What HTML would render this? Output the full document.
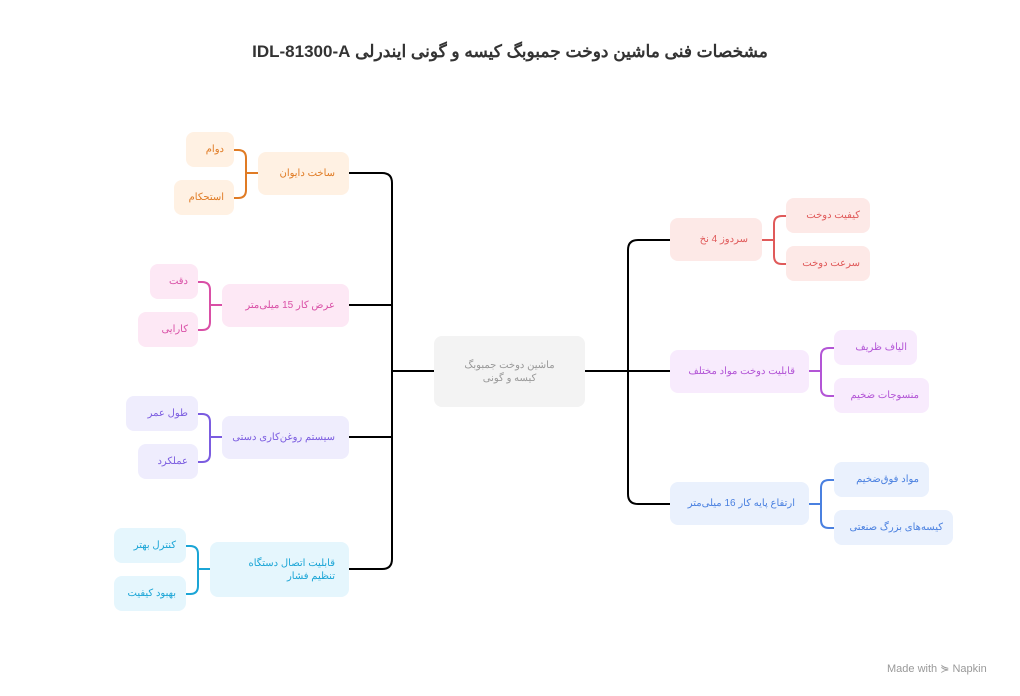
<!DOCTYPE html>
<html><head><meta charset="utf-8"><style>
body{margin:0;width:1020px;height:696px;background:#fff;position:relative;overflow:hidden;font-family:"Liberation Sans","Noto Sans CJK SC",sans-serif}
.b{position:absolute;border-radius:8px;display:flex;align-items:center;justify-content:flex-start;box-sizing:border-box;padding:0 14px;font-size:10px;direction:rtl;text-align:right;line-height:13px;white-space:nowrap}
.w{white-space:normal}
.s{padding:0 10px}
.t{position:absolute;left:0;top:42px;width:1020px;text-align:center;font-size:17px;font-weight:bold;color:#333;direction:rtl}
.o{background:#fff1e3;color:#e07b24}.p{background:#fde8f5;color:#d94fa6}.u{background:#efedfd;color:#7b5ce0}.c{background:#e5f6fd;color:#1ba5d6}
.r{background:#fde9e7;color:#e05a5a}.v{background:#f8ebfd;color:#b355d6}.l{background:#eaf1fd;color:#4a80e0}
</style></head><body>
<div class="t">مشخصات فنی ماشین دوخت جمبوبگ کیسه و گونی ایندرلی IDL-81300-A</div>
<svg width="1020" height="696" style="position:absolute;left:0;top:0" fill="none">
<g stroke="#000" stroke-width="2">
<path d="M343,173 H382 Q392,173 392,183 V559 Q392,569 382,569 H343"/>
<path d="M343,305 H392 M343,437 H392 M392,371 H434"/>
<path d="M585,371 H628 M670,240 H638 Q628,240 628,250 V494 Q628,504 638,504 H670 M628,371 H670"/>
</g>
<g stroke-width="2">
<path stroke="#e07b24" d="M228,150 H238 Q246,150 246,158 V190 Q246,198 238,198 H228 M246,173 H264"/>
<path stroke="#d94fa6" d="M192,282 H202 Q210,282 210,290 V322 Q210,330 202,330 H192 M210,305 H228"/>
<path stroke="#7b5ce0" d="M192,414 H202 Q210,414 210,422 V454 Q210,462 202,462 H192 M210,437 H228"/>
<path stroke="#1ba5d6" d="M180,546 H190 Q198,546 198,554 V586 Q198,594 190,594 H180 M198,569 H216"/>
<path stroke="#e05a5a" d="M756,240 H774 M792,216 H782 Q774,216 774,224 V256 Q774,264 782,264 H792"/>
<path stroke="#b355d6" d="M803,371 H821 M840,348 H829 Q821,348 821,356 V388 Q821,396 829,396 H840"/>
<path stroke="#4a80e0" d="M803,504 H821 M840,480 H829 Q821,480 821,488 V520 Q821,528 829,528 H840"/>
</g></svg>
<div class="b w" style="left:434px;top:336px;width:151px;height:71px;background:#f3f3f3;color:#999;justify-content:center;text-align:center;padding:0 20px">ماشین دوخت جمبوبگ کیسه و گونی</div>

<div class="b o" style="left:258px;top:152px;width:91px;height:43px">ساخت دایوان</div>
<div class="b o s" style="left:186px;top:132px;width:48px;height:35px">دوام</div>
<div class="b o s" style="left:174px;top:180px;width:60px;height:35px">استحکام</div>

<div class="b p" style="left:222px;top:284px;width:127px;height:43px">عرض کار 15 میلی‌متر</div>
<div class="b p s" style="left:150px;top:264px;width:48px;height:35px">دقت</div>
<div class="b p s" style="left:138px;top:312px;width:60px;height:35px">کارایی</div>

<div class="b u" style="left:222px;top:416px;width:127px;height:43px">سیستم روغن‌کاری دستی</div>
<div class="b u s" style="left:126px;top:396px;width:72px;height:35px">طول عمر</div>
<div class="b u s" style="left:138px;top:444px;width:60px;height:35px">عملکرد</div>

<div class="b c w" style="left:210px;top:542px;width:139px;height:55px">قابلیت اتصال دستگاه تنظیم فشار</div>
<div class="b c s" style="left:114px;top:528px;width:72px;height:35px">کنترل بهتر</div>
<div class="b c s" style="left:114px;top:576px;width:72px;height:35px">بهبود کیفیت</div>

<div class="b r" style="left:670px;top:218px;width:92px;height:43px">سردوز 4 نخ</div>
<div class="b r s" style="left:786px;top:198px;width:84px;height:35px">کیفیت دوخت</div>
<div class="b r s" style="left:786px;top:246px;width:84px;height:35px">سرعت دوخت</div>

<div class="b v" style="left:670px;top:350px;width:139px;height:43px">قابلیت دوخت مواد مختلف</div>
<div class="b v s" style="left:834px;top:330px;width:83px;height:35px">الیاف ظریف</div>
<div class="b v s" style="left:834px;top:378px;width:95px;height:35px">منسوجات ضخیم</div>

<div class="b l" style="left:670px;top:482px;width:139px;height:43px">ارتفاع پایه کار 16 میلی‌متر</div>
<div class="b l s" style="left:834px;top:462px;width:95px;height:35px">مواد فوق‌ضخیم</div>
<div class="b l s" style="left:834px;top:510px;width:119px;height:35px">کیسه‌های بزرگ صنعتی</div>

<div style="position:absolute;left:887px;top:662px;font-size:11px;color:#999">Made with ⋟ Napkin</div>
</body></html>
